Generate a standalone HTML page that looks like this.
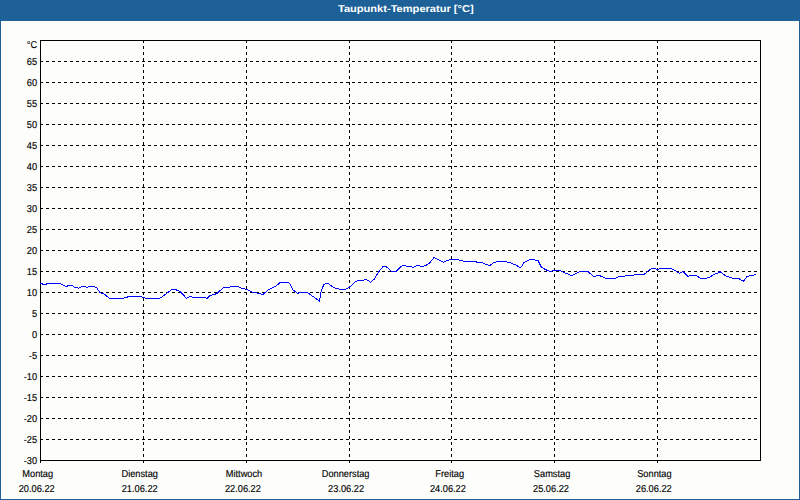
<!DOCTYPE html>
<html><head><meta charset="utf-8"><title>Taupunkt-Temperatur</title>
<style>
html,body{margin:0;padding:0;background:#1e5f95;}
body{width:800px;height:500px;overflow:hidden;position:relative;font-family:"Liberation Sans",sans-serif;}
svg{position:absolute;left:0;top:0;display:block}
text{font-family:"Liberation Sans",sans-serif;font-size:10px;fill:#000;text-rendering:geometricPrecision;stroke:#000;stroke-width:0.15px}
.t{font-weight:bold;fill:#fff;font-size:10px;stroke:none}
</style></head><body>
<svg width="800" height="500" viewBox="0 0 800 500">
<defs><pattern id="dz" width="8" height="8" patternUnits="userSpaceOnUse"><rect width="8" height="8" fill="#1e5f95"/><g fill="#1868a8"><rect x="2" y="0" width="1" height="1"/><rect x="4" y="1" width="1" height="1"/><rect x="7" y="2" width="1" height="1"/><rect x="3" y="3" width="1" height="1"/><rect x="1" y="4" width="1" height="1"/><rect x="5" y="5" width="1" height="1"/><rect x="0" y="6" width="1" height="1"/><rect x="6" y="7" width="1" height="1"/></g></pattern></defs>
<rect x="0" y="0" width="800" height="500" fill="#1e5f95"/>
<rect x="0" y="0" width="800" height="21" fill="url(#dz)" shape-rendering="crispEdges"/>
<rect x="1" y="21" width="798" height="478" fill="#fdfefc"/>
<text class="t" transform="translate(405.8,11.7) scale(1.108,1)" text-anchor="middle">Taupunkt-Temperatur [°C]</text>
<g shape-rendering="crispEdges" stroke="#000" stroke-width="1" fill="none">
<line x1="40" y1="61.5" x2="757" y2="61.5" stroke-dasharray="3 3"/>
<line x1="40" y1="82.5" x2="757" y2="82.5" stroke-dasharray="3 3"/>
<line x1="40" y1="103.5" x2="757" y2="103.5" stroke-dasharray="3 3"/>
<line x1="40" y1="124.5" x2="757" y2="124.5" stroke-dasharray="3 3"/>
<line x1="40" y1="145.5" x2="757" y2="145.5" stroke-dasharray="3 3"/>
<line x1="40" y1="166.5" x2="757" y2="166.5" stroke-dasharray="3 3"/>
<line x1="40" y1="187.5" x2="757" y2="187.5" stroke-dasharray="3 3"/>
<line x1="40" y1="208.5" x2="757" y2="208.5" stroke-dasharray="3 3"/>
<line x1="40" y1="229.5" x2="757" y2="229.5" stroke-dasharray="3 3"/>
<line x1="40" y1="250.5" x2="757" y2="250.5" stroke-dasharray="3 3"/>
<line x1="40" y1="271.5" x2="757" y2="271.5" stroke-dasharray="3 3"/>
<line x1="40" y1="292.5" x2="757" y2="292.5" stroke-dasharray="3 3"/>
<line x1="40" y1="313.5" x2="757" y2="313.5" stroke-dasharray="3 3"/>
<line x1="40" y1="334.5" x2="757" y2="334.5" stroke-dasharray="3 3"/>
<line x1="40" y1="355.5" x2="757" y2="355.5" stroke-dasharray="3 3"/>
<line x1="40" y1="376.5" x2="757" y2="376.5" stroke-dasharray="3 3"/>
<line x1="40" y1="397.5" x2="757" y2="397.5" stroke-dasharray="3 3"/>
<line x1="40" y1="418.5" x2="757" y2="418.5" stroke-dasharray="3 3"/>
<line x1="40" y1="439.5" x2="757" y2="439.5" stroke-dasharray="3 3"/>
<line x1="143.5" y1="40" x2="143.5" y2="463" stroke-dasharray="3 3"/>
<line x1="246.5" y1="40" x2="246.5" y2="463" stroke-dasharray="3 3"/>
<line x1="349.5" y1="40" x2="349.5" y2="463" stroke-dasharray="3 3"/>
<line x1="451.5" y1="40" x2="451.5" y2="463" stroke-dasharray="3 3"/>
<line x1="554.5" y1="40" x2="554.5" y2="463" stroke-dasharray="3 3"/>
<line x1="657.5" y1="40" x2="657.5" y2="463" stroke-dasharray="3 3"/>
<line x1="40.5" y1="40" x2="40.5" y2="463"/>
<line x1="40" y1="40.5" x2="761" y2="40.5"/>
<line x1="760.5" y1="40" x2="760.5" y2="461"/>
<line x1="40" y1="460.5" x2="761" y2="460.5"/>
</g>
<polyline points="40.4,283.0 43.0,284.2 46.0,284.2 48.0,283.2 59.0,283.2 62.0,284.4 66.0,286.6 69.0,285.4 72.0,285.6 75.0,287.4 78.4,288.2 83.0,286.2 87.0,287.4 90.0,286.4 93.0,286.4 96.4,287.4 100.0,292.6 104.0,294.0 109.6,298.2 123.0,298.2 129.0,296.6 141.0,296.6 146.0,298.2 160.0,298.2 166.0,294.0 172.0,289.4 175.0,289.4 180.0,291.4 186.4,298.2 190.0,296.6 194.0,297.4 205.0,297.6 207.0,298.4 210.0,295.6 217.0,293.6 220.0,290.6 224.0,287.4 229.0,287.4 232.0,286.4 238.0,286.4 241.0,288.0 247.0,289.4 252.0,292.0 259.0,293.4 263.0,294.4 269.0,289.4 276.0,286.0 280.0,282.6 286.0,282.2 288.5,282.6 290.0,284.2 293.2,290.2 296.0,292.0 298.0,293.6 299.2,292.4 307.2,292.4 309.6,294.0 316.4,299.0 319.4,301.2 320.8,293.0 322.4,287.8 324.0,284.6 326.8,283.2 329.2,284.2 332.4,286.6 335.6,288.2 338.0,288.4 340.0,289.4 345.2,289.4 347.6,288.4 349.6,287.0 356.0,281.4 358.0,280.4 363.0,280.4 365.6,279.4 368.0,280.4 370.4,282.4 374.0,279.4 379.0,271.4 383.0,266.6 385.6,266.4 388.0,268.0 391.6,271.4 396.0,271.4 401.0,266.4 404.0,265.4 407.0,266.2 411.0,266.4 413.0,267.4 417.0,265.4 420.0,266.0 423.0,266.4 426.0,265.4 430.0,262.6 434.0,257.6 438.0,259.4 443.6,262.2 447.0,260.4 451.0,259.4 458.0,259.6 464.0,261.4 475.0,261.6 478.0,262.4 483.0,262.8 486.0,264.6 490.0,265.6 493.0,263.0 498.0,261.4 505.0,261.4 512.0,263.4 517.0,265.6 520.6,268.0 524.0,262.4 530.0,259.4 538.0,260.4 541.0,266.6 545.0,269.4 550.0,271.4 554.0,270.4 560.0,270.6 566.0,273.4 572.0,275.6 580.0,271.4 588.0,271.6 594.0,276.6 597.0,275.6 599.6,275.6 606.0,278.4 615.0,278.4 619.0,276.6 624.0,276.4 626.0,275.6 633.0,275.4 635.0,274.6 644.0,274.4 649.0,270.4 652.0,268.4 655.0,268.4 657.6,269.6 660.0,268.4 671.0,268.4 675.0,270.6 679.6,273.4 683.0,271.6 688.0,276.4 691.0,275.4 696.0,275.6 701.0,278.4 706.0,278.4 710.0,277.0 714.0,274.4 718.0,273.0 720.0,271.6 726.0,276.0 730.0,277.4 734.0,278.4 739.0,278.6 743.4,281.4 747.0,276.6 750.0,275.6 753.0,275.4 756.0,274.4" fill="none" stroke="#0000ff" stroke-width="1" stroke-linejoin="round" shape-rendering="crispEdges"/>
<g text-anchor="end">
<text transform="translate(37.1,48) scale(0.924,1)">°C</text>
<text transform="translate(37.1,65) scale(0.924,1)">65</text>
<text transform="translate(37.1,86) scale(0.924,1)">60</text>
<text transform="translate(37.1,107) scale(0.924,1)">55</text>
<text transform="translate(37.1,128) scale(0.924,1)">50</text>
<text transform="translate(37.1,149) scale(0.924,1)">45</text>
<text transform="translate(37.1,170) scale(0.924,1)">40</text>
<text transform="translate(37.1,191) scale(0.924,1)">35</text>
<text transform="translate(37.1,212) scale(0.924,1)">30</text>
<text transform="translate(37.1,233) scale(0.924,1)">25</text>
<text transform="translate(37.1,254) scale(0.924,1)">20</text>
<text transform="translate(37.1,275) scale(0.924,1)">15</text>
<text transform="translate(37.1,296) scale(0.924,1)">10</text>
<text transform="translate(37.1,317) scale(0.924,1)">5</text>
<text transform="translate(37.1,338) scale(0.924,1)">0</text>
<text transform="translate(37.1,359) scale(0.924,1)">-5</text>
<text transform="translate(37.1,380) scale(0.924,1)">-10</text>
<text transform="translate(37.1,401) scale(0.924,1)">-15</text>
<text transform="translate(37.1,422) scale(0.924,1)">-20</text>
<text transform="translate(37.1,443) scale(0.924,1)">-25</text>
<text transform="translate(37.1,464) scale(0.924,1)">-30</text>
</g>
<g text-anchor="middle">
<text transform="translate(37.7,477) scale(0.924,1)">Montag</text>
<text transform="translate(36.7,492) scale(0.924,1)">20.06.22</text>
<text transform="translate(139.7,477) scale(0.924,1)">Dienstag</text>
<text transform="translate(139.7,492) scale(0.924,1)">21.06.22</text>
<text transform="translate(244,477) scale(0.924,1)">Mittwoch</text>
<text transform="translate(242.9,492) scale(0.924,1)">22.06.22</text>
<text transform="translate(345.6,477) scale(0.924,1)">Donnerstag</text>
<text transform="translate(346.1,492) scale(0.924,1)">23.06.22</text>
<text transform="translate(449.75,477) scale(0.924,1)">Freitag</text>
<text transform="translate(447.9,492) scale(0.924,1)">24.06.22</text>
<text transform="translate(552.1,477) scale(0.924,1)">Samstag</text>
<text transform="translate(551,492) scale(0.924,1)">25.06.22</text>
<text transform="translate(654.4,477) scale(0.924,1)">Sonntag</text>
<text transform="translate(653.75,492) scale(0.924,1)">26.06.22</text>
</g>
</svg>
</body></html>
